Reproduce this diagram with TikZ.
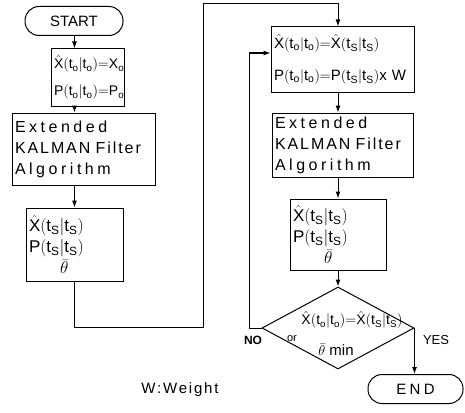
\documentclass[tikz,border=0pt]{standalone}
\usepackage{amsmath}
\usepackage{fontspec}
\setmainfont{Liberation Sans}
\setsansfont{Liberation Sans}
\newfontfamily\widefont[LetterSpace=22]{Liberation Sans}
\newfontfamily\midfont[LetterSpace=12]{Liberation Sans}
\usetikzlibrary{shapes.geometric, arrows.meta, positioning, calc}
\newcommand{\Xh}{\hat{\mathsf{X}}}
\newcommand{\Pcov}{\mathsf{P}}
\newcommand{\tzero}{\mathsf{t}_{\mathsf{o}}}
\newcommand{\tsamp}{\mathsf{t}_{\mathsf{S}}}
\tikzset{
  termbox/.style={rectangle, draw, rounded corners=14pt, minimum height=29pt,
    line width=1pt, inner sep=0pt, font=\fontsize{15}{18}\selectfont},
  procbox/.style={rectangle, draw, line width=1pt, align=left,
    inner xsep=3pt, inner ysep=0pt},
  decide/.style={diamond, draw, line width=1pt, minimum width=152pt,
    minimum height=82pt, inner sep=0pt},
  arrow/.style={-{Latex[length=7pt,width=5pt]}, line width=1pt},
  line/.style={line width=1pt}
}

\begin{document}
\begin{tikzpicture}[x=1pt, y=-1pt]
  \useasboundingbox (0,0) rectangle (465,412);
  % Left column: first pass
  \node[termbox, minimum width=98pt] (start) at (74,21) {START};
  \node[procbox, text width=67pt, minimum height=57pt,
    font=\fontsize{14}{27}\selectfont] (init) at (87.5,77.5)
    {$\Xh(\tzero|\tzero){=}\mathsf{X}_{\mathsf{o}}$\\
     $\Pcov(\tzero|\tzero){=}\Pcov_{\mathsf{o}}$};
  \node[procbox, text width=137pt, minimum height=72pt,
    font=\fontsize{16}{21}\selectfont] (ekfa) at (83.5,149)
    {{\widefont Extended}\\{\midfont KALMAN Filter}\\{\widefont Algorithm}};
  \node[procbox, text width=91pt, minimum height=73pt,
    font=\fontsize{17}{21}\selectfont] (esta) at (74.5,244.5)
    {$\Xh(\tsamp|\tsamp)$\\$\Pcov(\tsamp|\tsamp)$\\\hspace*{31pt}$\bar{\theta}$};
  % Right column: repeated passes
  \node[procbox, text width=137pt, minimum height=65pt,
    font=\fontsize{15}{32}\selectfont] (reinit) at (342.5,59.5)
    {$\Xh(\tzero|\tzero){=}\Xh(\tsamp|\tsamp)$\\
     $\Pcov(\tzero|\tzero){=}\Pcov(\tsamp|\tsamp)$x~W};
  \node[procbox, text width=135pt, minimum height=64pt,
    font=\fontsize{16}{21}\selectfont] (ekfb) at (342.5,145)
    {{\widefont Extended}\\{\midfont KALMAN Filter}\\{\widefont Algorithm}};
  \node[procbox, text width=90pt, minimum height=71pt,
    font=\fontsize{17}{21}\selectfont] (estb) at (338,234.5)
    {$\Xh(\tsamp|\tsamp)$\\$\Pcov(\tsamp|\tsamp)$\\\hspace*{31pt}$\bar{\theta}$};
  \node[decide] (check) at (338,328) {};
  \node[font=\fontsize{14}{16}\selectfont] (conda) at (352,320)
    {$\Xh(\tzero|\tzero){=}\Xh(\tsamp|\tsamp)$};
  \node[font=\fontsize{11}{12}\selectfont] (condor) at (292,339) {or};
  \node[font=\fontsize{15}{17}\selectfont] (condb) at (336,350) {$\bar{\theta}$ min};
  \node[termbox, minimum width=95pt] (stop) at (415.5,389) {\widefont END};
  % Labels
  \node[font=\fontsize{12}{14}\selectfont\bfseries] (nolabel) at (253,340) {NO};
  \node[font=\fontsize{13}{15}\selectfont] (yeslabel) at (436,340) {YES};
  \node[font=\fontsize{15}{17}\selectfont\midfont] (note) at (180,390) {W:Weight};
  % Loop corners
  \coordinate (lowturn) at (203,327);
  \coordinate (topturn) at (203,4);
  \coordinate (nobend) at (249,53);
  % Connectors
  \draw[arrow] (start.south -| esta) -- (init.north -| esta);
  \draw[arrow] (init.south -| esta) -- (ekfa.north -| esta);
  \draw[arrow] (ekfa.south -| esta) -- (esta.north);
  \draw[arrow] (esta.south) |- (lowturn) -- (topturn) -| (reinit.north -| check);
  \draw[arrow] (reinit.south -| check) -- (ekfb.north -| check);
  \draw[arrow] (ekfb.south -| check) -- (estb.north);
  \draw[arrow] (estb.south) -- (check.north);
  \draw[arrow] (check.west) -| (nobend) -- (reinit.west |- nobend);
  \draw[arrow] (check.east) -- (check.east |- stop.north);
\end{tikzpicture}
\end{document}
